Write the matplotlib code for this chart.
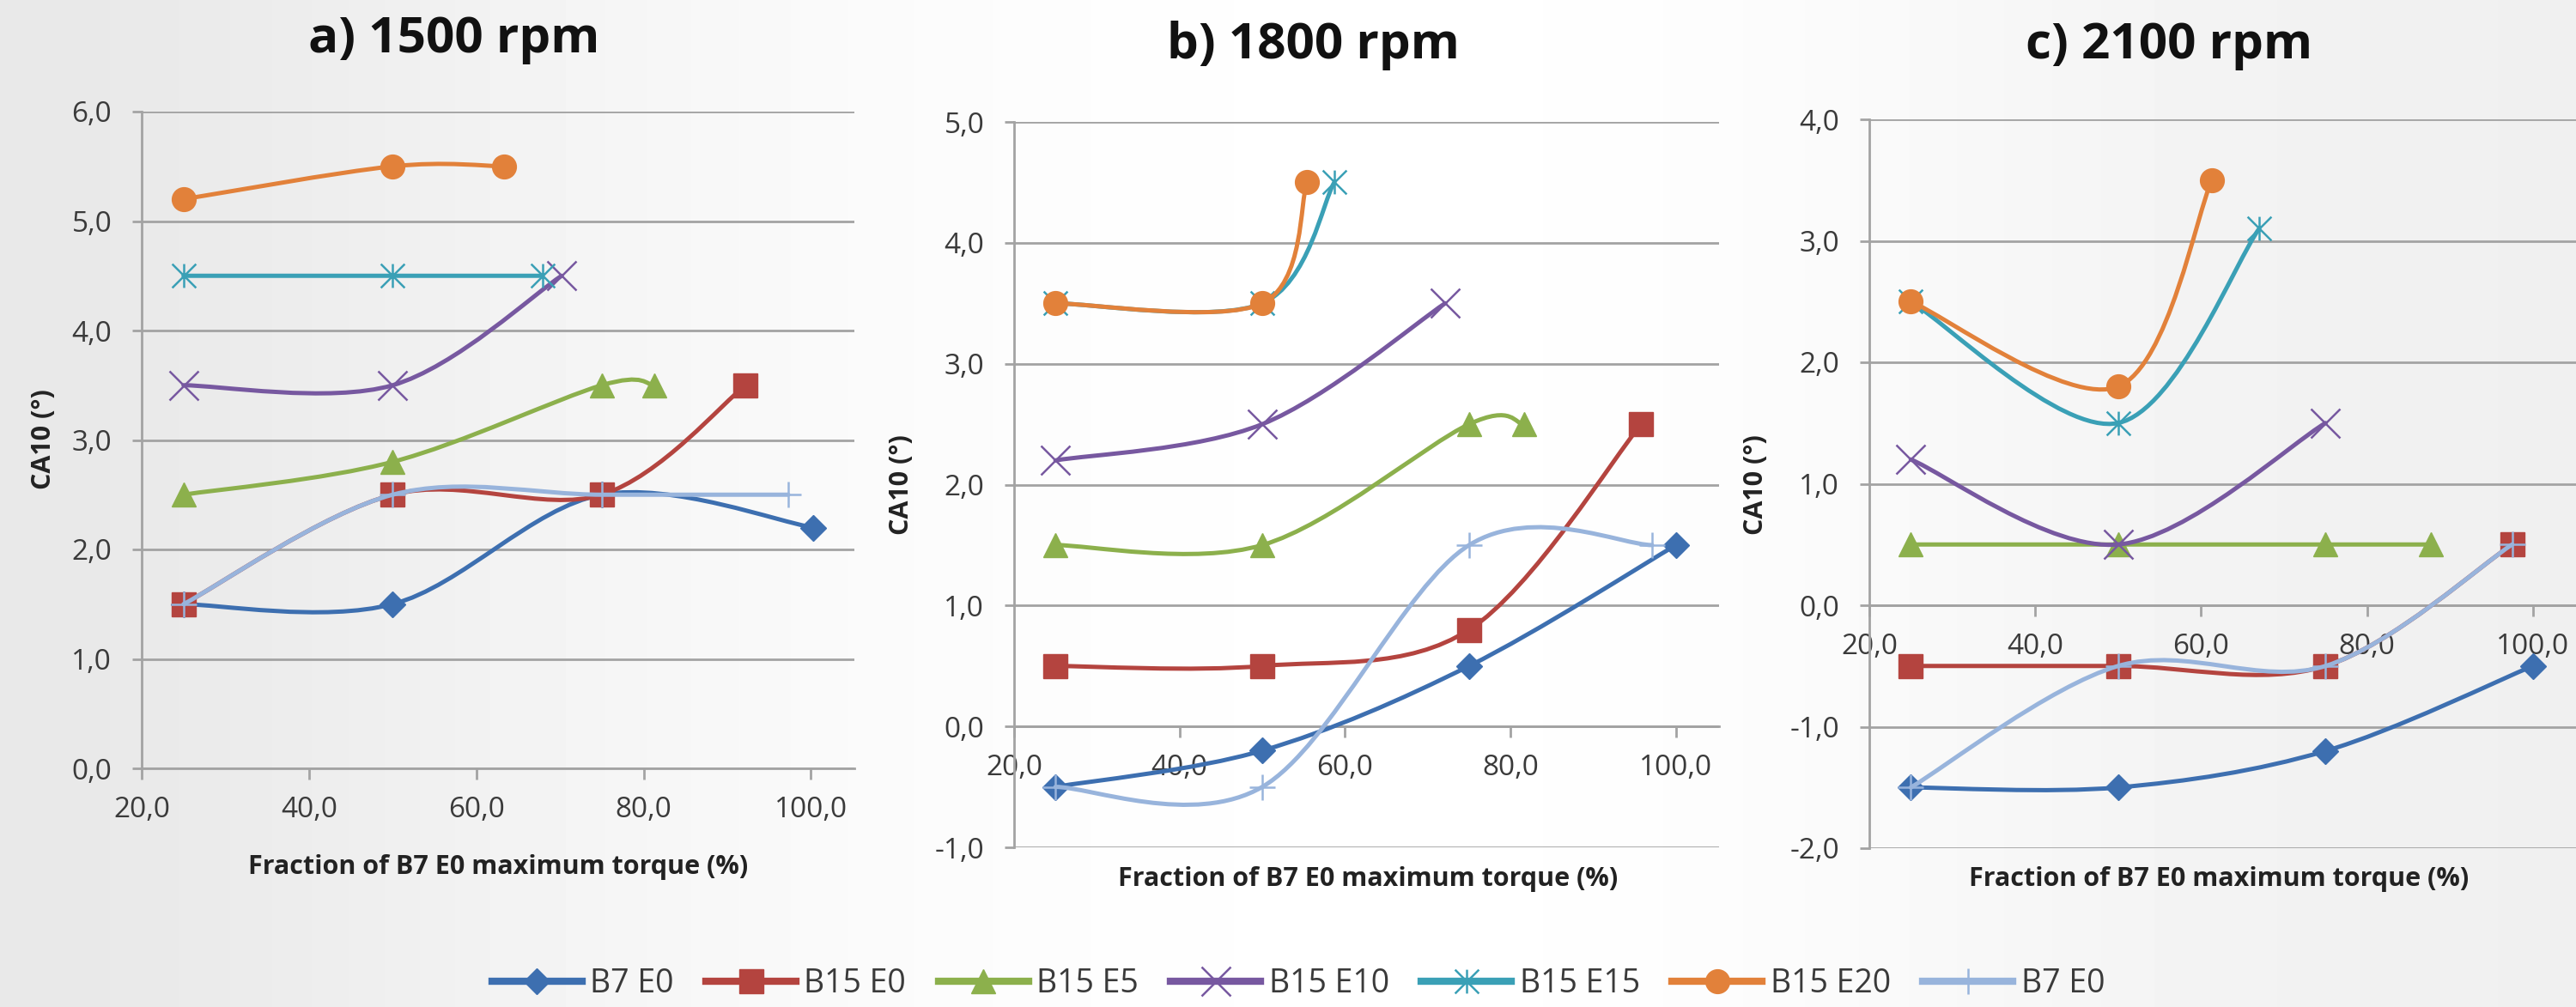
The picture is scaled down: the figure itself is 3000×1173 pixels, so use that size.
import numpy as np
import matplotlib.pyplot as plt
from matplotlib.path import Path
from matplotlib.patches import PathPatch
from matplotlib.lines import Line2D
from matplotlib.ticker import FuncFormatter, MultipleLocator

plt.rcParams['font.family'] = ['Open Sans', 'DejaVu Sans']

series = ["B7 E0", "B15 E0", "B15 E5", "B15 E10", "B15 E15", "B15 E20", "B7 E0"]
colors = ["#3d6fb0", "#b4443f", "#8cb04c", "#7758a0", "#3aa0b6", "#e2813a", "#98b4dc"]

titles = ["a) 1500 rpm", "b) 1800 rpm", "c) 2100 rpm"]

# 1500 rpm
x_a = [
    [25, 50, 75, 100.3],
    [25, 50, 75, 92.2],
    [25, 50, 75, 81.3],
    [25, 50, 70.2],
    [25, 50, 67.9],
    [25, 50, 63.3],
    [25, 50, 75, 97.3],
]
y_a = [
    [1.5, 1.5, 2.5, 2.2],
    [1.5, 2.5, 2.5, 3.5],
    [2.5, 2.8, 3.5, 3.5],
    [3.5, 3.5, 4.5],
    [4.5, 4.5, 4.5],
    [5.2, 5.5, 5.5],
    [1.5, 2.5, 2.5, 2.5],
]

# 1800 rpm
x_b = [
    [25, 50, 75, 100],
    [25, 50, 75, 95.8],
    [25, 50, 75, 81.6],
    [25, 50, 72.1],
    [25, 50, 58.7],
    [25, 50, 55.4],
    [25, 50, 75, 97.1],
]
y_b = [
    [-0.5, -0.2, 0.5, 1.5],
    [0.5, 0.5, 0.8, 2.5],
    [1.5, 1.5, 2.5, 2.5],
    [2.2, 2.5, 3.5],
    [3.5, 3.5, 4.5],
    [3.5, 3.5, 4.5],
    [-0.5, -0.5, 1.5, 1.5],
]

# 2100 rpm
x_c = [
    [25, 50, 75, 100],
    [25, 50, 75, 97.5],
    [25, 50, 75, 87.7],
    [25, 50, 75],
    [25, 50, 67.0],
    [25, 50, 61.3],
    [25, 50, 75, 97.5],
]
y_c = [
    [-1.5, -1.5, -1.2, -0.5],
    [-0.5, -0.5, -0.5, 0.5],
    [0.5, 0.5, 0.5, 0.5],
    [1.2, 0.5, 1.5],
    [2.5, 1.5, 3.1],
    [2.5, 1.8, 3.5],
    [-1.5, -0.5, -0.5, 0.5],
]

y_limits = [(0, 6), (-1, 5), (-2, 4)]

# excel-like star marker (x with a vertical bar)
star = Path([(0, -1), (0, 1), (-1, -1), (1, 1), (-1, 1), (1, -1)],
            [Path.MOVETO, Path.LINETO] * 3)
markers = ["D", "s", "^", "x", star, "o", "+"]
msizes = [15, 20, 20, 24, 20, 20, 22]
filled = [True, True, True, False, False, True, False]


def smooth_path(xs, ys):
    # catmull-rom style bezier, like excel's smoothed line
    p = np.column_stack([xs, ys]).astype(float)
    n = len(p)
    verts = [p[0]]
    codes = [Path.MOVETO]
    for i in range(n - 1):
        p0 = p[i - 1] if i > 0 else p[i]
        p1 = p[i]
        p2 = p[i + 1]
        p3 = p[i + 2] if i + 2 < n else p[i + 1]
        verts += [p1 + (p2 - p0) / 6, p2 - (p3 - p1) / 6, p2]
        codes += [Path.CURVE4] * 3
    return Path(verts, codes)


fig = plt.figure(figsize=(30, 11.73), dpi=100)
fig.patch.set_facecolor("#f3f3f3")

# soft background shading
bg = fig.add_axes([0, 0, 1, 1], zorder=-10)
shade = np.array([0.91, 0.95, 0.98, 0.995, 1.0, 0.99, 0.96, 0.94])
bg.imshow(np.tile(shade, (2, 1)), cmap="gray", vmin=0, vmax=1, aspect="auto",
          interpolation="bicubic", extent=[0, 1, 0, 1])
bg.set_axis_off()

W, H = 3000, 1173
boxes = [(165, 995, 130, 895), (1181, 2002, 142, 987), (2177, 3000, 139, 988)]
title_pos = [(529, 46), (1529, 53), (2526, 53)]
xlab_pos = [(580, 1010), (1593, 1024), (2584, 1024)]
ylab_pos = [(51, 512), (1050, 565), (2045, 565)]

fmt = FuncFormatter(lambda v, pos: f"{v:.1f}".replace(".", ","))
grey = "#a3a3a3"
txt = "#3a3a3a"

for k, (xs_all, ys_all) in enumerate([(x_a, y_a), (x_b, y_b), (x_c, y_c)]):
    l, r, t, b = boxes[k]
    ax = fig.add_axes([l / W, 1 - b / H, (r - l) / W, (b - t) / H])
    ax.patch.set_alpha(0)
    ax.set_xlim(20, 105.2)
    ax.set_ylim(*y_limits[k])
    ax.xaxis.set_major_locator(MultipleLocator(20))
    ax.yaxis.set_major_locator(MultipleLocator(1))
    ax.set_xticks([20, 40, 60, 80, 100])
    ax.xaxis.set_major_formatter(fmt)
    ax.yaxis.set_major_formatter(fmt)
    for s in ["top", "right"]:
        ax.spines[s].set_visible(False)
    ax.spines["bottom"].set_position(("data", 0))
    ax.spines["bottom"].set_color(grey)
    ax.spines["left"].set_color(grey)
    ax.spines["bottom"].set_linewidth(2)
    ax.spines["left"].set_linewidth(2)
    ax.yaxis.grid(True, color=grey, lw=2)
    ax.set_axisbelow(True)
    ax.tick_params(axis="y", length=8, width=2, color=grey, pad=17,
                   labelsize=24, labelcolor=txt)
    ax.tick_params(axis="x", length=9, width=2, color=grey, pad=14,
                   labelsize=24, labelcolor=txt)

    for i in range(len(series)):
        xs, ys = xs_all[i], ys_all[i]
        ax.add_patch(PathPatch(smooth_path(xs, ys), fill=False, edgecolor=colors[i],
                               lw=3.6, capstyle="round", joinstyle="round",
                               zorder=3 + i))
        if filled[i]:
            ax.plot(xs, ys, ls="none", marker=markers[i], ms=msizes[i],
                    color=colors[i], mec=colors[i], zorder=3.5 + i,
                    clip_on=False)
        else:
            ax.plot(xs, ys, ls="none", marker=markers[i], ms=msizes[i],
                    color=colors[i], mew=1.8, zorder=3.5 + i, clip_on=False)

    fig.text(title_pos[k][0] / W, 1 - title_pos[k][1] / H, titles[k],
             ha="center", va="center", fontsize=42, fontweight="bold",
             color="#111111")
    fig.text(xlab_pos[k][0] / W, 1 - xlab_pos[k][1] / H,
             "Fraction of B7 E0 maximum torque (%)", ha="center", va="center",
             fontsize=22, fontweight="bold", color="#222222")
    fig.text(ylab_pos[k][0] / W, 1 - ylab_pos[k][1] / H, "CA10 (°)",
             ha="center", va="center", rotation=90, fontsize=22,
             fontweight="bold", color="#222222")

handles = []
for i in range(len(series)):
    handles.append(Line2D([], [], color=colors[i], lw=6, marker=markers[i],
                          ms=msizes[i], mew=1.8 if not filled[i] else 1))
fig.legend(handles, series, loc="center", bbox_to_anchor=(0.504, 1 - 1146 / H),
           ncol=7, frameon=False, fontsize=27, handlelength=2.8,
           handletextpad=0.25, columnspacing=1.0, labelcolor=txt)

fig.savefig("out.png", dpi=100, facecolor=fig.get_facecolor())
